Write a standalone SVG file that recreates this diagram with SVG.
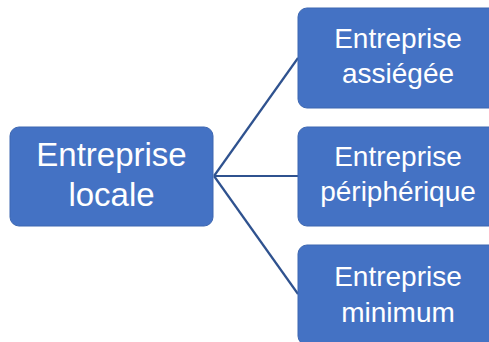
<svg xmlns="http://www.w3.org/2000/svg" width="489" height="342" viewBox="0 0 489 342">
<style>
.box{fill:#4472C4;stroke:#3D67B1;stroke-width:1}
.t{font-family:"Liberation Sans",Arial,sans-serif;fill:#fff;text-anchor:middle}
.big{font-size:33px}
.sm{font-size:28px}
.c{stroke:#2F528F;stroke-width:2.2;fill:none}
</style>
<rect width="489" height="342" fill="#fff"/>
<g id="connectors">
<line class="c" x1="214" y1="176" x2="298" y2="58"/>
<line class="c" x1="214" y1="176" x2="298" y2="176"/>
<line class="c" x1="214" y1="176" x2="298" y2="294"/>
</g>
<g id="n-locale">
<rect class="box" x="10" y="127" width="203" height="99" rx="9"/>
<text class="t big" x="111.5" y="166">Entreprise</text>
<text class="t big" x="111.5" y="206">locale</text>
</g>
<g id="n-assiegee">
<rect class="box" x="298" y="8" width="200" height="100" rx="9"/>
<text class="t sm" x="398" y="48">Entreprise</text>
<text class="t sm" x="398" y="83">assiégée</text>
</g>
<g id="n-peripherique">
<rect class="box" x="298" y="127" width="200" height="99" rx="9"/>
<text class="t sm" x="398" y="166">Entreprise</text>
<text class="t sm" x="398" y="201">périphérique</text>
</g>
<g id="n-minimum">
<rect class="box" x="298" y="245" width="200" height="100" rx="9"/>
<text class="t sm" x="398" y="286">Entreprise</text>
<text class="t sm" x="398" y="322">minimum</text>
</g>
</svg>
